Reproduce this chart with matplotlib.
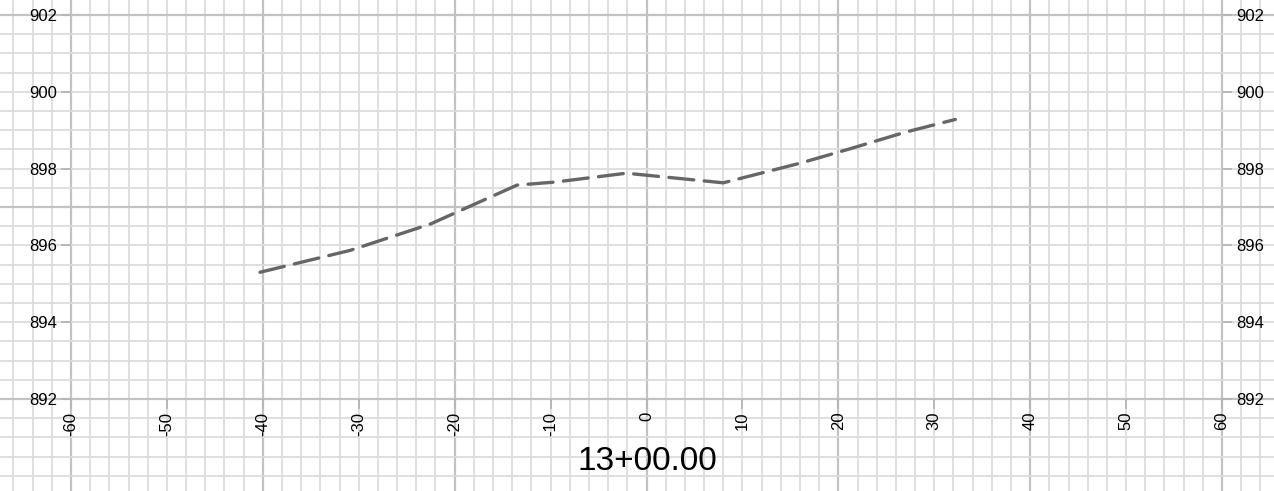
import numpy as np
import matplotlib
matplotlib.use('Agg')
import matplotlib.pyplot as plt
from matplotlib.ticker import MultipleLocator

# cross-section ground line, offset (ft) vs elevation
offset = [-40.3, -30.9, -22.5, -13.5, -9.5, -2.1, 8.0, 16.0, 21.0, 27.0, 32.2]
elev = [895.30, 895.87, 896.56, 897.57, 897.65, 897.88, 897.63, 898.14, 898.50, 898.95, 899.28]
x_ticks = [-60, -50, -40, -30, -20, -10, 0, 10, 20, 30, 40, 50, 60]
y_ticks = [892, 894, 896, 898, 900, 902]
station = '13+00.00'

W, H = 1274, 491
plt.rcParams['font.family'] = ['Liberation Sans', 'DejaVu Sans']
plt.rcParams['lines.scale_dashes'] = False

fig = plt.figure(figsize=(W / 100, H / 100), dpi=100)

# main plotting area in pixels
x0, x1 = 71, 1222
y_top, y_bot = 15, 399
xmin, xmax = -60, 60
ymin, ymax = 892, 902
ppx = (x1 - x0) / (xmax - xmin)
ppy = (y_bot - y_top) / (ymax - ymin)

# background grid axes covering the whole figure
bg = fig.add_axes([0, 0, 1, 1])
bg.set_xlim(xmin - x0 / ppx, xmax + (W - x1) / ppx)
bg.set_ylim(ymin - (H - y_bot) / ppy, ymax + y_top / ppy)
bg.xaxis.set_major_locator(MultipleLocator(20))
bg.xaxis.set_minor_locator(MultipleLocator(2))
bg.yaxis.set_major_locator(MultipleLocator(5, offset=2))
bg.yaxis.set_minor_locator(MultipleLocator(0.5))
bg.grid(which='minor', color='#dcdcdc', linewidth=1.3)
bg.grid(which='major', color='#c2c2c2', linewidth=1.6)
bg.tick_params(which='both', length=0, labelbottom=False, labelleft=False)
for s in bg.spines.values():
    s.set_visible(False)
bg.set_axisbelow(True)

ax = fig.add_axes([x0 / W, 1 - y_bot / H, (x1 - x0) / W, (y_bot - y_top) / H])
ax.patch.set_alpha(0)
ax.set_xlim(xmin, xmax)
ax.set_ylim(ymin, ymax)
for s in ax.spines.values():
    s.set_visible(False)
ax.set_xticks(x_ticks)
ax.set_yticks(y_ticks)
ax.set_xticklabels([str(v) for v in x_ticks], rotation=90, va='top')
ax.tick_params(axis='x', direction='out', length=7, width=1.3, color='#b5b5b5',
               labelsize=12, pad=2)
ax.tick_params(axis='y', direction='out', length=7, width=1.3, color='#b5b5b5',
               labelsize=12, pad=3, right=True, labelright=True)

ax.plot(offset, elev, color='#666666', linewidth=2.4, dashes=(18, 7.5),
        solid_capstyle='round', dash_capstyle='round')

fig.text(647 / W, 1 - 461 / H, station, fontsize=24, ha='center', va='center')

fig.savefig('out.png', dpi=100)
